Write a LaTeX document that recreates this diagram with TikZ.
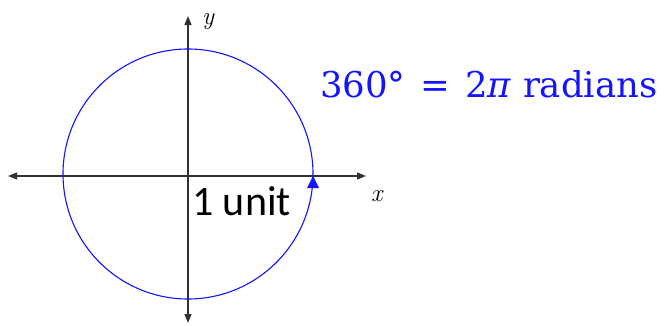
\documentclass[tikz,border=0pt]{standalone}
\usepackage{fontspec}
\newfontfamily\calfont{Carlito}
\newfontfamily\eqfont{DejaVu Serif}
\usetikzlibrary{arrows.meta}
\definecolor{axisgray}{RGB}{50,50,50}
\definecolor{circblue}{RGB}{20,20,255}
\begin{document}
\begin{tikzpicture}[x=1pt,y=-1pt,
  axis/.style={draw=axisgray,line width=1.3pt,-{Triangle[length=9pt,width=7pt]}},
  circ/.style={draw=circblue,line width=1.1pt}]
\useasboundingbox (0,0) rectangle (669,325);
\coordinate (O) at (188,176);
\coordinate (xl) at (8,176);
\coordinate (xr) at (366,176);
\coordinate (yt) at (188,16);
\coordinate (yb) at (188,323);
\draw[axis] (O) -- (xr);
\draw[axis] (O) -- (xl);
\draw[axis] (O) -- (yt);
\draw[axis] (O) -- (yb);
\draw[circ] (188,174) circle[radius=125];
\coordinate (tip) at (313,176);
\fill[circblue] (tip) -- ++(-6,12) -- ++(12,0) -- cycle;
\node[anchor=base west, inner sep=0pt, font=\itshape\fontsize{25}{28}\selectfont] (ylab) at (202,24) {y};
\node[anchor=base west, inner sep=0pt, font=\itshape\fontsize{25}{28}\selectfont] (xlab) at (371,201) {x};
\node[anchor=base west, inner sep=0pt, font=\calfont\fontsize{42}{46}\selectfont] (unit) at (192,215) {1 unit};
\node[anchor=base west, inner sep=0pt, text=circblue, font=\eqfont\fontsize{35.5}{40}\selectfont] (eq) at (320,97) {360°\hspace{0.42em}=\hspace{0.42em}2\textit{π} radians};
\end{tikzpicture}
\end{document}
